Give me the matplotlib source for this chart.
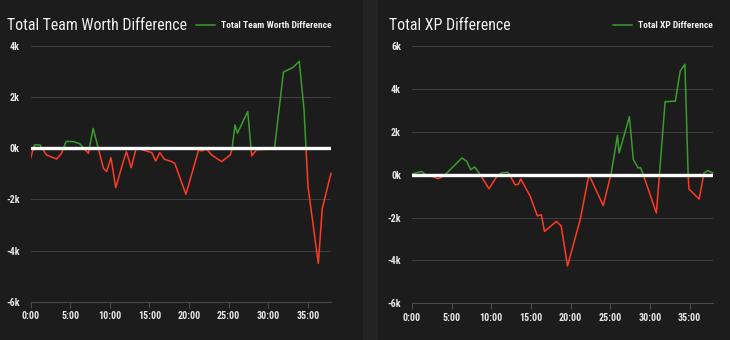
import matplotlib
matplotlib.use('Agg')
import matplotlib.pyplot as plt
from matplotlib import font_manager
from matplotlib.patches import Rectangle

# data (minutes into the game, difference)
minutes_worth = [0, 0.5, 1.2, 2.0, 3.3, 3.9, 4.5, 5.4, 6.2, 7.3, 7.9, 8.55, 9.2, 9.6,
                 10.15, 10.75, 11.7, 12.1, 12.7, 13.3, 13.8, 15.3, 15.8, 16.3, 16.9,
                 17.8, 18.2, 19.6, 21.2, 21.6, 22.2, 22.85, 24.1, 25.2, 25.4, 25.8,
                 26.1, 27.4, 27.9, 28.5, 30.4, 30.8, 31.9, 33.1, 33.9, 34.5, 35.0,
                 36.3, 36.8, 37.9]
worth_diff = [-400, 130, 130, -260, -420, -200, 270, 260, 180, -200, 780, 0, -780, -910,
              -370, -1540, -520, -130, -760, -30, -30, -170, -500, -170, -430,
              -520, -590, -1800, -70, -100, -30, -260, -520, -260, -60, 910,
              590, 1440, -300, -60, -30, 60, 2980, 3160, 3400, 1500, -1500,
              -4500, -2350, -980]

minutes_xp = [0, 1.2, 1.6, 2.5, 3.3, 3.9, 4.4, 6.3, 6.9, 7.4, 7.9, 8.6, 9.7, 10.7,
              11.3, 12.1, 13.0, 13.4, 13.7, 14.9, 15.8, 16.3, 16.7, 18.2, 18.8, 19.6,
              21.2, 22.3, 24.1, 25.1, 25.9, 26.1, 27.4, 27.9, 28.5, 28.8, 29.1, 30.8,
              31.2, 31.9, 33.2, 33.8, 34.4, 34.8, 34.9, 36.2, 36.8, 37.3, 37.9]
xp_diff = [30, 150, 30, -80, -190, -80, 80, 780, 620, 230, 360, 0, -660, -80,
           80, 110, -470, -450, -200, -1010, -1920, -1870, -2650, -2180, -2390, -4260,
           -2100, 0, -1440, 50, 1830, 1010, 2700, 700, 310, 330, 50, -1790,
           50, 3400, 3430, 4830, 5150, 50, -670, -1140, 80, 190, 80]

x_ticks = [0, 5, 10, 15, 20, 25, 30, 35]
x_tick_labels = ['0:00', '5:00', '10:00', '15:00', '20:00', '25:00', '30:00', '35:00']
worth_ticks = [-6000, -4000, -2000, 0, 2000, 4000]
worth_tick_labels = ['-6k', '-4k', '-2k', '0k', '2k', '4k']
xp_ticks = [-6000, -4000, -2000, 0, 2000, 4000, 6000]
xp_tick_labels = ['-6k', '-4k', '-2k', '0k', '2k', '4k', '6k']

titles = ['Total Team Worth Difference', 'Total XP Difference']

GREEN = '#3a9c2c'
RED = '#ff3b24'
BG = '#1c1c1c'

# pick a narrow font if one is there, else plain Roboto
names = {f.name for f in font_manager.fontManager.ttflist}
narrow = next((n for n in ['Roboto Condensed', 'Liberation Sans Narrow', 'Open Sans Condensed']
               if n in names), None)
if narrow:
    fam = narrow
    title_size, tick_size, leg_size = 11.4, 7.2, 6.8
else:
    fam = 'Roboto'
    title_size, tick_size, leg_size = 9.9, 6.2, 5.9

fig = plt.figure(figsize=(7.3, 3.4), dpi=100, facecolor=BG)
fig.patches.append(Rectangle((363 / 730, 0), 14 / 730, 1, transform=fig.transFigure,
                             color='#232323', zorder=0))


def panel(rect, minutes, values, ticks, tick_labels, title, title_x, leg_x):
    ax = fig.add_axes(rect)
    ax.set_facecolor(BG)
    ax.set_xlim(0, 37.9)
    ax.set_ylim(ticks[0], ticks[-1])

    # same line twice, clipped above and below zero
    for color, y0 in [(GREEN, 0), (RED, ticks[0])]:
        line, = ax.plot(minutes, values, color=color, lw=1.1, zorder=3,
                        label=title if color == GREEN else None)
        clip = Rectangle((0, y0), 40, ticks[-1] if y0 == 0 else -ticks[0],
                         transform=ax.transData)
        line.set_clip_path(clip)

    ax.axhline(0, color='white', lw=2.4, zorder=4)

    ax.set_yticks(ticks)
    ax.set_yticklabels(tick_labels)
    ax.set_xticks(x_ticks)
    ax.set_xticklabels(x_tick_labels)
    for t in ax.get_xticklabels() + ax.get_yticklabels():
        t.set_fontfamily(fam)
        t.set_fontweight('bold')
        t.set_fontsize(tick_size)
        t.set_color('#e6e6e6')
    ax.grid(axis='y', color='#3d3d3d', lw=0.8)
    ax.set_axisbelow(True)
    for s in ['top', 'right', 'left']:
        ax.spines[s].set_visible(False)
    ax.spines['bottom'].set_color('#4a4a4a')
    ax.tick_params(axis='y', length=0, pad=8)
    ax.tick_params(axis='x', length=4, color='#4a4a4a', pad=3)

    fig.text(title_x / 730, 1 - 29.5 / 340, title, fontfamily=fam, fontsize=title_size,
             color='#f0f0f0', va='baseline', ha='left')
    leg = ax.legend(loc='center right', bbox_to_anchor=(leg_x / 730, 1 - 26 / 340),
                    bbox_transform=fig.transFigure, frameon=False, borderpad=0,
                    borderaxespad=0, handlelength=2.0, handletextpad=0.7,
                    prop={'family': fam, 'weight': 'bold', 'size': leg_size})
    for t in leg.get_texts():
        t.set_color('#f0f0f0')
    return ax


panel([30.5 / 730, 1 - 301.7 / 340, 300.5 / 730, 255.7 / 340],
      minutes_worth, worth_diff, worth_ticks, worth_tick_labels, titles[0], 7, 332)
panel([412 / 730, 1 - 303.3 / 340, 300.7 / 730, 257.3 / 340],
      minutes_xp, xp_diff, xp_ticks, xp_tick_labels, titles[1], 389, 713)

fig.savefig('out.png', dpi=100, facecolor=BG)
